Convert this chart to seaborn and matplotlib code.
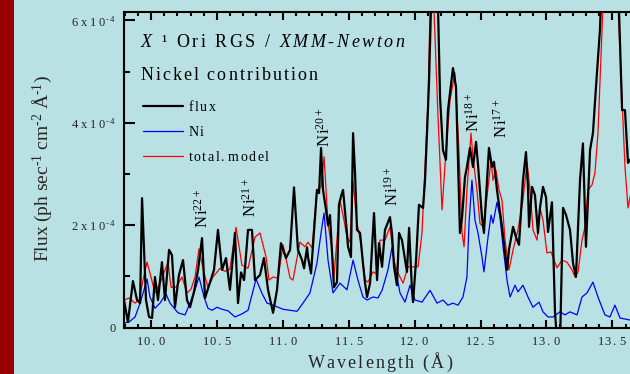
import numpy as np
import pandas as pd
import matplotlib
matplotlib.use("Agg")
import matplotlib.pyplot as plt
import seaborn as sns
from matplotlib.patches import Rectangle
from matplotlib.ticker import MultipleLocator

# ---------------- data (flux in units of 1e-4 ph/s/cm2/A) ----------------
flux_wl = [
    9.795, 9.825, 9.863, 9.894, 9.917, 9.932, 9.962, 9.985, 10.008, 10.030,
    10.053, 10.083, 10.106, 10.137, 10.159, 10.182, 10.212, 10.243, 10.273, 10.296,
    10.326, 10.357, 10.387, 10.410, 10.448, 10.478, 10.508, 10.539, 10.569, 10.599,
    10.637, 10.660, 10.683, 10.706, 10.736, 10.766, 10.789, 10.827, 10.857, 10.888,
    10.926, 10.956, 10.986, 11.024, 11.055, 11.085, 11.115, 11.146, 11.161, 11.184,
    11.191, 11.214, 11.259, 11.275, 11.290, 11.305, 11.328, 11.343, 11.358, 11.388,
    11.411, 11.426, 11.442, 11.457, 11.480, 11.495, 11.517, 11.533, 11.548, 11.563,
    11.586, 11.608, 11.624, 11.639, 11.662, 11.692, 11.715, 11.730, 11.753, 11.775,
    11.813, 11.828, 11.844, 11.866, 11.882, 11.904, 11.919, 11.942, 11.958, 11.980,
    11.988, 12.011, 12.033, 12.064, 12.079, 12.094, 12.109, 12.124, 12.150, 12.178,
    12.193, 12.215, 12.238, 12.253, 12.291, 12.314, 12.344, 12.360, 12.382, 12.397,
    12.420, 12.443, 12.466, 12.481, 12.511, 12.526, 12.564, 12.587, 12.602, 12.625,
    12.663, 12.701, 12.716, 12.747, 12.769, 12.792, 12.822, 12.845, 12.860, 12.868,
    12.891, 12.913, 12.936, 12.951, 12.974, 12.997, 13.012, 13.042, 13.065, 13.080,
    13.103, 13.126, 13.149, 13.179, 13.202, 13.224, 13.255, 13.277, 13.300, 13.331,
    13.353, 13.376, 13.406, 13.460, 13.551, 13.574, 13.596, 13.619, 13.634, 13.700,
]
flux_val = [
    0.54, 0.11, 0.91, 0.54, 0.48, 2.53, 0.54, 0.21, 0.19, 0.99,
    0.54, 1.28, 0.54, 1.52, 1.42, 0.40, 1.03, 1.32, 0.54, 0.40,
    0.70, 1.13, 1.75, 0.58, 0.89, 1.13, 1.91, 1.13, 1.36, 0.74,
    1.85, 0.48, 1.08, 0.93, 1.91, 1.91, 0.93, 1.03, 1.36, 0.74,
    0.29, 0.74, 1.65, 1.36, 1.52, 2.74, 1.52, 1.32, 1.16, 1.57,
    1.38, 1.06, 2.69, 2.63, 3.51, 2.69, 2.30, 2.00, 2.20, 0.79,
    0.89, 2.40, 2.57, 2.69, 2.04, 1.58, 1.38, 3.80, 3.02, 1.91,
    1.85, 1.26, 0.87, 0.60, 0.87, 2.24, 0.93, 1.65, 1.19, 1.91,
    2.16, 1.85, 1.19, 0.83, 1.85, 1.71, 1.46, 1.09, 1.95, 0.74,
    0.50, 1.32, 2.40, 2.34, 2.88, 3.80, 4.78, 6.20, 9.00, 6.20,
    4.50, 3.47, 3.28, 4.25, 5.07, 4.70, 1.85, 2.16, 2.94, 3.14,
    3.51, 3.14, 3.63, 3.18, 2.16, 1.85, 3.51, 3.14, 3.24, 2.69,
    1.97, 1.13, 1.52, 1.97, 1.77, 1.62, 2.88, 3.43, 2.75, 1.97,
    2.75, 2.59, 1.85, 2.34, 2.75, 2.55, 1.87, 2.45, 0.31, -0.24,
    -0.34, 2.34, 2.20, 1.91, 1.26, 0.99, 2.88, 3.60, 1.58, 3.47,
    3.80, 4.70, 5.81, 9.50, 6.17, 4.25, 4.25, 3.22, 3.28, 3.00,
]

ni_wl = [
    9.795, 9.833, 9.879, 9.917, 9.947, 9.970, 9.992, 10.030, 10.068, 10.114,
    10.144, 10.205, 10.258, 10.296, 10.334, 10.364, 10.402, 10.432, 10.463, 10.501,
    10.539, 10.584, 10.637, 10.690, 10.736, 10.797, 10.842, 10.880, 10.926, 11.002,
    11.055, 11.108, 11.153, 11.206, 11.259, 11.290, 11.313, 11.343, 11.381, 11.434,
    11.487, 11.533, 11.570, 11.608, 11.639, 11.684, 11.722, 11.753, 11.798, 11.828,
    11.851, 11.889, 11.927, 11.965, 12.003, 12.056, 12.117, 12.170, 12.215, 12.253,
    12.291, 12.329, 12.367, 12.397, 12.413, 12.435, 12.458, 12.481, 12.511, 12.526,
    12.557, 12.580, 12.595, 12.625, 12.648, 12.671, 12.701, 12.724, 12.762, 12.784,
    12.822, 12.860, 12.898, 12.944, 12.974, 13.012, 13.050, 13.103, 13.141, 13.179,
    13.232, 13.270, 13.308, 13.353, 13.391, 13.444, 13.482, 13.520, 13.558, 13.634,
    13.700,
]
ni_val = [
    0.09, 0.11, 0.21, 0.48, 0.74, 0.95, 0.60, 0.38, 0.48, 0.66,
    0.48, 0.29, 0.25, 0.48, 0.74, 0.99, 0.60, 0.38, 0.34, 0.40,
    0.36, 0.33, 0.21, 0.27, 0.34, 0.95, 0.67, 0.48, 0.44, 0.36,
    0.34, 0.32, 0.48, 0.68, 1.26, 1.85, 2.24, 1.32, 0.68, 0.87,
    0.74, 1.32, 0.93, 0.60, 0.54, 0.60, 0.58, 0.73, 1.13, 1.57,
    1.19, 0.68, 0.50, 0.83, 0.54, 0.50, 0.73, 0.48, 0.54, 0.44,
    0.48, 0.44, 0.60, 0.99, 2.04, 2.88, 2.10, 1.85, 1.38, 1.09,
    1.77, 2.20, 2.04, 2.45, 2.16, 1.58, 0.93, 0.60, 0.83, 0.70,
    0.83, 0.60, 0.40, 0.50, 0.31, 0.21, 0.21, 0.31, 0.25, 0.31,
    0.25, 0.60, 0.68, 0.89, 0.60, 0.25, 0.21, 0.44, 0.19, 0.15,
    0.15,
]

model_wl = [
    9.795, 9.833, 9.879, 9.909, 9.939, 9.970, 9.992, 10.030, 10.068, 10.129,
    10.152, 10.190, 10.235, 10.273, 10.303, 10.334, 10.364, 10.402, 10.432, 10.470,
    10.524, 10.561, 10.599, 10.645, 10.690, 10.736, 10.789, 10.827, 10.873, 10.895,
    10.926, 10.964, 11.002, 11.055, 11.077, 11.130, 11.168, 11.191, 11.222, 11.259,
    11.290, 11.313, 11.343, 11.373, 11.388, 11.434, 11.464, 11.487, 11.510, 11.533,
    11.563, 11.593, 11.624, 11.646, 11.684, 11.715, 11.737, 11.775, 11.813, 11.844,
    11.874, 11.912, 11.950, 11.988, 12.026, 12.056, 12.079, 12.102, 12.117, 12.132,
    12.147, 12.178, 12.208, 12.238, 12.269, 12.306, 12.336, 12.360, 12.375, 12.397,
    12.428, 12.443, 12.473, 12.496, 12.519, 12.549, 12.580, 12.595, 12.617, 12.640,
    12.663, 12.686, 12.716, 12.747, 12.784, 12.822, 12.853, 12.876, 12.898, 12.929,
    12.951, 12.974, 13.004, 13.035, 13.080, 13.118, 13.156, 13.194, 13.217, 13.240,
    13.270, 13.293, 13.315, 13.346, 13.368, 13.391, 13.421, 13.480, 13.543, 13.574,
    13.596, 13.619, 13.634, 13.700,
]
model_val = [
    0.54, 0.58, 0.48, 0.54, 0.93, 1.28, 1.07, 0.68, 0.87, 1.28,
    0.79, 0.79, 0.99, 0.68, 0.75, 0.99, 1.54, 1.07, 0.79, 0.99,
    1.16, 1.10, 1.15, 1.96, 1.22, 1.16, 1.77, 1.85, 1.38, 0.93,
    0.99, 0.97, 1.62, 0.97, 0.93, 1.67, 1.58, 1.67, 1.56, 2.69,
    2.75, 3.34, 2.04, 1.52, 0.99, 2.49, 2.10, 1.77, 1.67, 2.85,
    2.04, 1.65, 0.93, 0.89, 1.09, 1.05, 1.71, 1.71, 1.97, 1.30,
    1.07, 0.87, 1.19, 1.19, 1.19, 1.85, 3.14, 4.45, 6.20, 9.50,
    6.20, 4.10, 2.30, 3.47, 4.45, 4.98, 3.47, 1.85, 1.58, 2.69,
    3.80, 3.32, 2.69, 2.04, 1.97, 2.55, 3.28, 2.88, 3.08, 2.69,
    2.49, 1.71, 1.13, 1.52, 1.91, 2.49, 3.22, 2.69, 1.91, 1.71,
    2.34, 2.10, 1.46, 1.48, 1.17, 1.32, 1.28, 1.13, 0.99, 1.09,
    1.71, 1.97, 2.69, 2.79, 3.02, 3.80, 5.75, 10.0, 6.30, 4.45,
    3.14, 2.34, 2.55, 3.00,
]

x_ticks = [10.0, 10.5, 11.0, 11.5, 12.0, 12.5, 13.0, 13.5]
x_tick_labels = ["10.0", "10.5", "11.0", "11.5", "12.0", "12.5", "13.0", "13.5"]
y_ticks = [0.0, 2e-4, 4e-4, 6e-4]
y_tick_mant = ["0", "2", "4", "6"]

ion_charges = ["22+", "21+", "20+", "19+", "18+", "17+"]
ion_wl = [10.395, 10.759, 11.316, 11.832, 12.447, 12.659]
ion_base = [1.95, 2.16, 3.53, 2.38, 3.82, 3.71]

series_names = ["flux", "Ni", "total.model"]

# ---------------- style ----------------
BG = "#b9e0e3"
sns.set_style("ticks")
plt.rcParams.update({
    "font.family": ["Liberation Serif", "DejaVu Serif"],
    "mathtext.fontset": "custom",
    "mathtext.rm": "Liberation Serif",
    "mathtext.it": "Liberation Serif:italic",
    "mathtext.bf": "Liberation Serif:bold",
    "mathtext.sf": "Liberation Serif",
    "axes.edgecolor": "black",
    "text.color": "black",
})


def spaced(text, gap, style="rm"):
    parts = []
    for ch in text:
        if ch == " ":
            parts.append(r"\ ")
        elif ch == "-":
            parts.append(r"\text{-}")
        else:
            parts.append(r"\math%s{%s}" % (style, ch))
    return (r"\hspace{%.2f}" % gap).join(parts)


def m(s):
    return "$" + s + "$"


fig = plt.figure(figsize=(6.3, 3.74), dpi=100, facecolor=BG)
ax = fig.add_axes([124 / 630, (374 - 327.7) / 374, (640 - 124) / 630, 315.7 / 374])
ax.set_facecolor(BG)
fig.patches.append(Rectangle((0, 0), 14 / 630, 1, transform=fig.transFigure,
                             facecolor="#990000", edgecolor="none", zorder=0))

df_ni = pd.DataFrame({"wl": ni_wl, "flux": np.array(ni_val) * 1e-4})
df_model = pd.DataFrame({"wl": model_wl, "flux": np.array(model_val) * 1e-4})
df_flux = pd.DataFrame({"wl": flux_wl, "flux": np.array(flux_val) * 1e-4})

sns.lineplot(data=df_ni, x="wl", y="flux", ax=ax, color="#0000ff", lw=0.9,
             estimator=None, sort=False, label=series_names[1], zorder=2)
sns.lineplot(data=df_model, x="wl", y="flux", ax=ax, color="#ff0000", lw=0.9,
             estimator=None, sort=False, label=series_names[2], zorder=3)
sns.lineplot(data=df_flux, x="wl", y="flux", ax=ax, color="black", lw=1.6,
             estimator=None, sort=False, label=series_names[0], zorder=4)

ax.set_xlim(9.7951, 13.710)
ax.set_ylim(0, 6.166e-4)

# ticks
ax.set_xticks(x_ticks)
ax.set_xticklabels([m(spaced(t, 0.19)) for t in x_tick_labels])
ax.xaxis.set_minor_locator(MultipleLocator(0.1))
ax.set_yticks(y_ticks)
ylabels = []
for mant in y_tick_mant:
    if mant == "0":
        ylabels.append("0")
    else:
        ylabels.append(m(spaced(mant + "x10", 0.34) + r"^{" + spaced("-4", 0.25) + "}"))
ax.set_yticklabels(ylabels)
ax.yaxis.set_minor_locator(MultipleLocator(1e-4))
ax.tick_params(axis="both", which="both", direction="in", width=1.5, color="black")
ax.tick_params(axis="x", which="major", length=6, top=True, bottom=True,
               labelsize=9, pad=6)
ax.tick_params(axis="x", which="minor", length=3, top=True, bottom=True)
ax.tick_params(axis="y", which="major", length=8, labelsize=9, pad=6, right=False)
ax.tick_params(axis="y", which="minor", length=4, right=False)
for s in ["left", "bottom", "top"]:
    ax.spines[s].set_linewidth(1.5)
ax.spines["right"].set_visible(False)

# axis labels
ax.set_xlabel(m(spaced("Wavelength (Å)", 0.17)), fontsize=13)
ax.xaxis.set_label_coords(0.496, -0.073)
ax.set_ylabel(m(r"\mathrm{Flux\ (ph\ sec}^{\mathrm{\text{-}1}}\mathrm{\ cm}^{\mathrm{\text{-}2}}"
                r"\mathrm{\ Å}^{\mathrm{\text{-}1}}\mathrm{)}"), fontsize=14)
ax.yaxis.set_label_coords(-0.135, 0.503)

# titles
title1 = (spaced("X", 0.2, "it") + r"\hspace{0.2}\ \hspace{0.2}\mathrm{¹}\hspace{0.2}\ \hspace{0.2}"
          + spaced("Ori RGS / ", 0.2) + r"\hspace{0.2}" + spaced("XMM-Newton", 0.2, "it"))
ax.text((140 - 124) / 516, (327.7 - 47) / 315.7, m(title1), transform=ax.transAxes,
        fontsize=13, va="baseline", ha="left")
ax.text((140 - 124) / 516, (327.7 - 80) / 315.7, m(spaced("Nickel contribution", 0.16)),
        transform=ax.transAxes, fontsize=13, va="baseline", ha="left")

# ion labels
for q, wl, yb in zip(ion_charges, ion_wl, ion_base):
    ax.text(wl, yb * 1e-4, m(r"\mathrm{N}\hspace{0.1}\mathrm{i}^{\mathrm{" + q + "}}"),
            rotation=90, ha="center", va="bottom", fontsize=12)

# legend
handles, labels = ax.get_legend_handles_labels()
order = [labels.index(n) for n in series_names]
ax.legend([handles[i] for i in order], [m(spaced(series_names[k], 0.16)) for k in range(3)],
          loc="upper left", bbox_to_anchor=(0.037, 0.724), frameon=False, fontsize=10,
          handlelength=2.9, handletextpad=0.35, labelspacing=0.8, borderpad=0,
          borderaxespad=0)

fig.savefig("out.png", dpi=100, facecolor=BG)
